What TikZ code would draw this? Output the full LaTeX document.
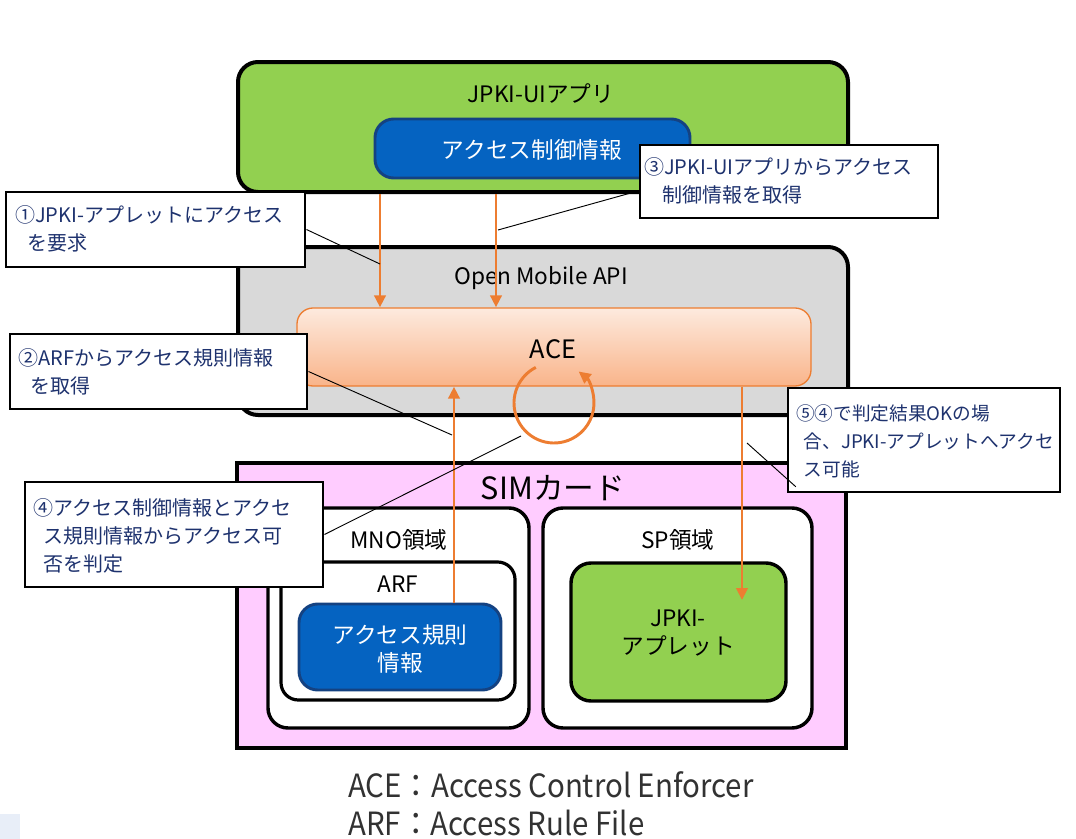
\documentclass[tikz,border=0pt]{standalone}
\usepackage{fontspec}
\setmainfont{Noto Sans CJK JP}
\usetikzlibrary{arrows.meta,fit}
\definecolor{appgreen}{RGB}{146,208,80}
\definecolor{infoblue}{RGB}{5,99,193}
\definecolor{infoedge}{RGB}{20,66,130}
\definecolor{apigray}{RGB}{217,217,217}
\definecolor{simpink}{RGB}{255,204,255}
\definecolor{flowor}{RGB}{237,125,49}
\definecolor{notenavy}{RGB}{30,50,110}
\definecolor{acetop}{RGB}{253,234,222}
\definecolor{acebot}{RGB}{249,180,138}
\definecolor{legendgray}{RGB}{50,50,50}
\definecolor{cornerblue}{RGB}{232,238,248}

\begin{document}
\begin{tikzpicture}[x=0.75pt,y=0.75pt,
  area/.style={draw,line width=3pt,rounded corners=15pt,inner sep=0pt},
  inner/.style={draw,fill=white,line width=2.6pt,rounded corners=15pt,inner sep=0pt},
  info/.style={draw=infoedge,fill=infoblue,line width=2.2pt,rounded corners=14pt,inner sep=0pt},
  infotext/.style={text=white,align=center,inner sep=0pt,font=\fontsize{17}{21}\selectfont},
  title/.style={anchor=base,inner sep=0pt,font=\fontsize{17}{21}\selectfont},
  note/.style={draw,fill=white,line width=2.2pt,inner sep=0pt},
  notetext/.style={anchor=west,inner sep=0pt,align=left,text=notenavy,
    font=\fontsize{15}{21}\selectfont},
  flow/.style={draw=flowor,line width=2.2pt,-{Triangle[length=9pt,width=8.5pt]}},
  lead/.style={draw,line width=0.7pt}]
\useasboundingbox (0,0) rectangle (1076,-839);
\fill[cornerblue] (0,-814) rectangle (20,-839);

\node[area,fill=appgreen,fit={(238,-62) (848,-192)}] (app) {};
\node[title] at (541,-102) {JPKI-UIアプリ};
\node[info,fit={(375,-119) (690,-178)}] (ctl) {};
\node[infotext,anchor=base] at (532,-158) {アクセス制御情報};

\node[area,fill=apigray,fit={(238,-247) (848,-415)}] (api) {};
\node[title] at (541,-284) {Open Mobile API};
\node[draw=flowor,line width=1pt,top color=acetop,bottom color=acebot,rounded corners=12pt,
  inner sep=0pt,fit={(297,-308) (811,-386)}] (ace) {};
\node[title,font=\fontsize{19}{21}\selectfont] at (553,-358) {ACE};

\node[draw,line width=3pt,fill=simpink,inner sep=0pt,fit={(237,-463) (846,-748)}] (sim) {};
\node[title,font=\fontsize{23}{28}\selectfont] at (553,-499) {SIMカード};
\node[inner,fit={(268,-508) (529,-728)}] (mno) {};
\node[title] at (399,-548) {MNO領域};
\node[inner,line width=2.4pt,rounded corners=13pt,fit={(281,-562) (515,-700)}] (arf) {};
\node[title] at (398,-592) {ARF};
\node[info,fit={(299,-604) (501,-690)}] (rule) {};
\node[infotext,font=\fontsize{17}{21.5}\selectfont] at (400,-649) {アクセス規則\\情報};
\node[inner,fit={(543,-508) (812,-728)}] (sp) {};
\node[title] at (678,-548) {SP領域};
\node[inner,fill=appgreen,fit={(571,-563) (786,-701)}] (applet) {};
\node[align=center,inner sep=0pt,font=\fontsize{17}{21.5}\selectfont] at (678,-633) {JPKI-\\アプレット};

\coordinate (p1) at (380,0);
\coordinate (p2) at (496,0);
\coordinate (p3) at (454,0);
\coordinate (p4) at (742,0);
\coordinate (p4end) at (742,-600);
\coordinate (loop) at (554,-403);
\draw[flow] (p1 |- app.south) -- (p1 |- ace.north);
\draw[flow] (p2 |- app.south) -- (p2 |- ace.north);
\draw[flow] (p3 |- rule.north) -- (p3 |- ace.south);
\draw[flow] (p4 |- ace.south) -- (p4end);
\draw[flow] (loop) ++(117:40) arc[start angle=117,end angle=412,radius=40];

\node[note,fit={(6,-192) (305,-267)}] (n1) {};
\node[notetext] at (15,-229) {①JPKI-アプレットにアクセス\\\hspace*{0.6em}を要求};
\node[note,fit={(10,-334) (307,-409)}] (n2) {};
\node[notetext] at (18,-372) {②ARFからアクセス規則情報\\\hspace*{0.6em}を取得};
\node[note,fit={(640,-145) (938,-218)}] (n3) {};
\node[notetext] at (644,-181) {③JPKI-UIアプリからアクセス\\\hspace*{0.9em}制御情報を取得};
\node[note,fit={(25,-482) (323,-587)}] (n4) {};
\node[notetext] at (33,-536) {④アクセス制御情報とアクセ\\\hspace*{0.5em}ス規則情報からアクセス可\\\hspace*{0.5em}否を判定};
\node[note,fit={(788,-388) (1060,-492)}] (n5) {};
\node[notetext,font=\fontsize{14}{21}\selectfont] at (796,-441) {⑤④で判定結果OKの場\\\hspace*{0.4em}合、JPKI-アプレットへアクセ\\\hspace*{0.4em}ス可能};

\coordinate (l1) at (380,-264);
\coordinate (l2) at (452,-435);
\coordinate (l3) at (498,-230);
\coordinate (l4) at (521,-436);
\coordinate (l5) at (747,-443);
\draw[lead] (n1.east) -- (l1);
\draw[lead] (n2.east) -- (l2);
\draw[lead] ([yshift=-7pt]n3.west) -- (l3);
\draw[lead] (n4.east) -- (l4);
\draw[lead] (l5) -- ([xshift=7pt,yshift=5pt]n5.south west);

\node[anchor=west,inner sep=0pt,text=legendgray,align=left,font=\fontsize{24}{28.5}\selectfont]
  (legend) at (348,-804) {\scalebox{0.92}[1]{ACE：Access Control Enforcer}\\\scalebox{0.92}[1]{ARF：Access Rule File}};
\end{tikzpicture}
\end{document}
